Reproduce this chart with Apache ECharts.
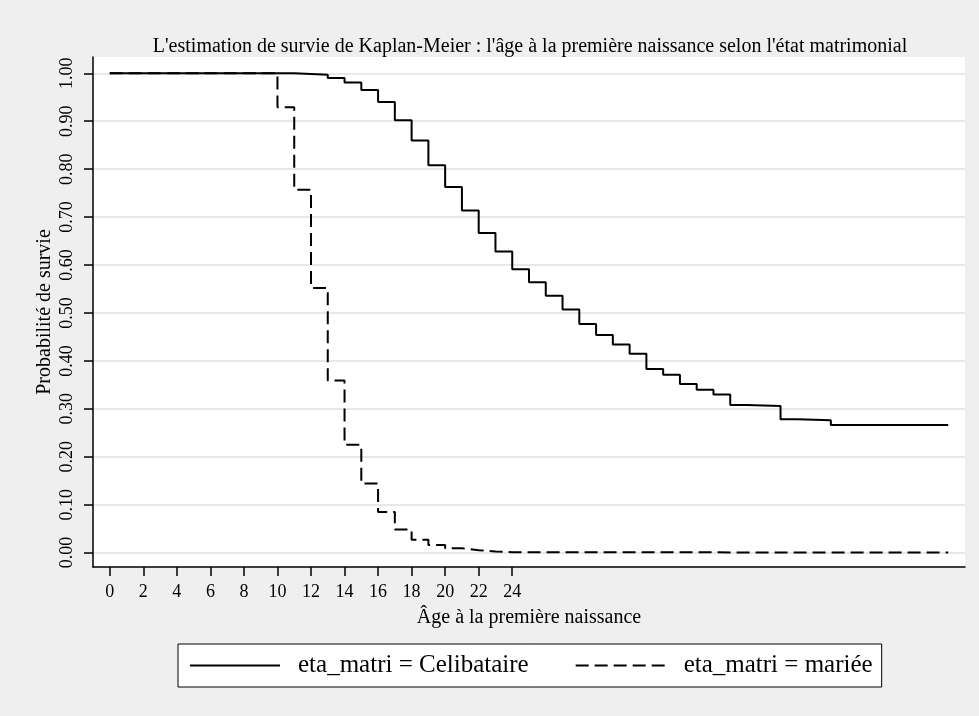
<!DOCTYPE html>
<html><head><meta charset="utf-8">
<script src="https://cdn.jsdelivr.net/npm/echarts@6/dist/echarts.min.js"></script>
<style>html,body{margin:0;padding:0;background:#efefef}#c{width:979px;height:716px}</style>
</head><body><div id="c"></div>
<script>
var titleText = "L'estimation de survie de Kaplan-Meier : l'âge à la première naissance selon l'état matrimonial";
var xName = "Âge à la première naissance";
var yName = "Probabilité de survie";
var seriesNames = ["eta_matri = Celibataire", "eta_matri = mariée"];
var xTicks = [0,2,4,6,8,10,12,14,16,18,20,22,24];
var yTicks = [0,0.1,0.2,0.3,0.4,0.5,0.6,0.7,0.8,0.9,1.0];

var celibAges = [0,11,12,13,14,15,16,17,18,19,20,21,22,23,24,25,26,27,28,29,30,31,32,33,34,35,36,37,38,39,40,41,43,50];
var celibSurv = [1.000,0.9985,0.997,0.990,0.981,0.965,0.940,0.902,0.860,0.808,0.763,0.714,0.667,0.628,0.591,0.564,0.536,0.507,0.477,0.454,0.434,0.415,0.383,0.371,0.352,0.340,0.330,0.308,0.307,0.306,0.278,0.276,0.266,0.266];

var marieAges = [0,10,11,12,13,14,15,16,17,18,19,20,21,22,23,24,50];
var marieSurv = [1.000,0.929,0.757,0.552,0.359,0.225,0.144,0.085,0.048,0.027,0.016,0.009,0.005,0.0025,0.001,0.000,0.000];

function zip(a,b){return a.map(function(v,i){return [v,b[i]];});}
var FONT = "'Liberation Serif','DejaVu Serif',serif";
var chart = echarts.init(document.getElementById('c'));
chart.setOption({
  backgroundColor:'#efefef',
  animation:false,
  textStyle:{fontFamily:FONT,color:'#000'},
  title:{text:titleText,left:525,textAlign:'center',top:32,
    textStyle:{fontFamily:FONT,fontSize:20,fontWeight:'normal',color:'#000'}},
  grid:{left:93,right:14,top:57,bottom:149,show:true,backgroundColor:'#fff',borderWidth:0},
  legend:{
    left:178,top:644,orient:'horizontal',
    padding:[9,9,9,11],
    backgroundColor:'#fff',borderColor:'#000',borderWidth:1,borderRadius:0,
    itemWidth:90,itemHeight:22,itemGap:46,
    itemStyle:{opacity:0},
    formatter:function(n){return '{t|' + n + '}';},
    textStyle:{fontFamily:FONT,fontSize:25,color:'#000',
      rich:{t:{fontFamily:FONT,fontSize:25,color:'#000',padding:[0,0,0,13]}}},
    data:[seriesNames[0],seriesNames[1]]
  },
  xAxis:{
    type:'value',min:-1,max:51,
    name:xName,nameLocation:'middle',nameGap:41,nameMoveOverlap:false,
    nameTextStyle:{fontFamily:FONT,fontSize:20,color:'#000'},
    axisLine:{show:true,onZero:false,lineStyle:{color:'#000',width:1.5}},
    axisTick:{show:true,length:9,lineStyle:{color:'#000',width:1.5},customValues:xTicks},
    axisLabel:{fontFamily:FONT,fontSize:18,color:'#000',margin:16,customValues:xTicks},
    splitLine:{show:false}
  },
  yAxis:{
    type:'value',min:-0.03,max:1.034,
    name:yName,nameLocation:'middle',nameGap:38,nameMoveOverlap:false,
    nameTextStyle:{fontFamily:FONT,fontSize:20,color:'#000'},
    axisLine:{show:true,onZero:false,lineStyle:{color:'#000',width:1.5}},
    axisTick:{show:true,length:9,lineStyle:{color:'#000',width:1.5},customValues:yTicks},
    axisLabel:{fontFamily:FONT,fontSize:18,color:'#000',rotate:90,margin:17,customValues:yTicks,
      formatter:function(v){return v.toFixed(2);}},
    splitLine:{show:true,lineStyle:{color:'#e8e8e8',width:2}}
  },
  series:[
    {name:seriesNames[0],type:'line',step:'end',showSymbol:false,symbol:'none',
     data:zip(celibAges,celibSurv),lineStyle:{color:'#000',width:2,type:'solid'},itemStyle:{color:'#000'},z:3},
    {name:seriesNames[1],type:'line',step:'end',showSymbol:false,symbol:'none',
     data:zip(marieAges,marieSurv),lineStyle:{color:'#000',width:2,type:[13,6]},itemStyle:{color:'#000'},z:2}
  ]
});
</script></body></html>
